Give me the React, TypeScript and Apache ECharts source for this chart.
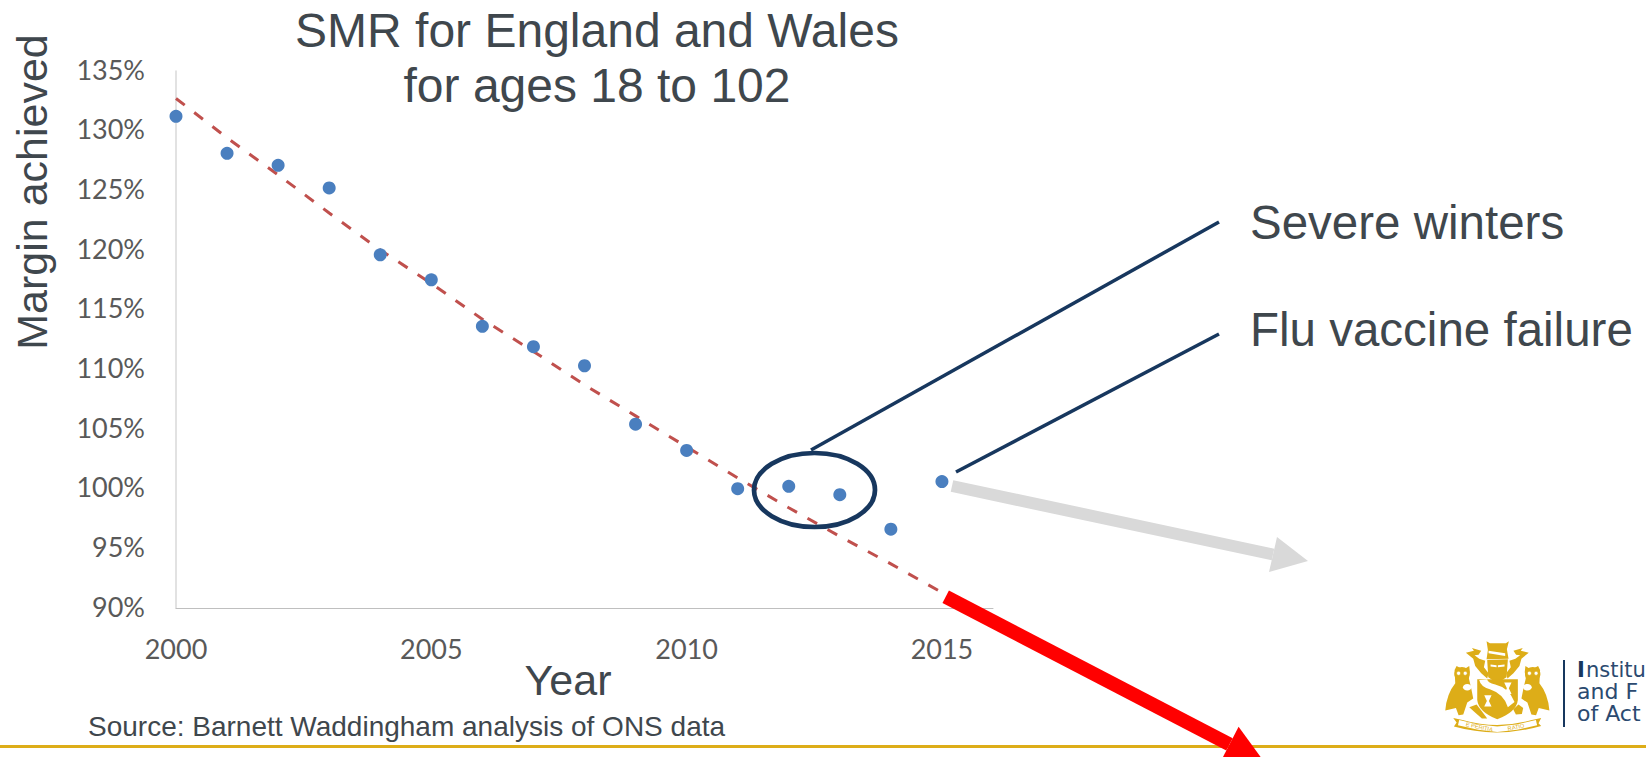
import React, { useEffect, useRef } from "react";
import * as echarts from "echarts";

const years = [2000, 2001, 2002, 2003, 2004, 2005, 2006, 2007, 2008, 2009, 2010, 2011, 2012, 2013, 2014, 2015];
const margins = [131.2, 128.1, 127.1, 125.2, 119.6, 117.5, 113.6, 111.9, 110.3, 105.4, 103.2, 100.0, 100.2, 99.5, 96.6, 100.6];
const trendValues = [132.7, 129.4, 126.3, 123.1, 120.0, 117.2, 114.2, 111.5, 108.7, 106.1, 103.5, 100.9, 98.4, 96.0, 93.7, 91.3];

const titleLines = ["SMR for England and Wales", "for ages 18 to 102"];
const yTitle = "Margin achieved";
const xTitle = "Year";
const sourceNote = "Source: Barnett Waddingham analysis of ONS data";
const callouts = ["Severe winters", "Flu vaccine failure"];
const logoLines = ["nstitu", "and F", "of Act"];
const mottoParts = ["E PERITIA", "RATIO"];

const INK = "#3F474D";
const NAVY = "#17375E";
const GOLD = "#DDAD18";
const SANS = "'Liberation Sans', Arial, sans-serif";

// Coat of arms, drawn in a 3x local space and scaled down when placed.
const SHIELD = "M292,178 L414,178 L414,240 Q410,276 352,298 Q296,276 292,240 Z";
const SHIELD_BEND = "M298,180 Q302,200 330,208 Q372,222 384,262 L404,246 Q388,204 346,194 Q322,188 322,178 Z";
const HELM = "M322,120 L384,118 L380,172 L352,190 L325,172 Z";
const CREST = "M320,64 L330,70 L378,70 L387,64 L381,88 L386,116 L320,118 L324,90 Z";
const MANTLE_L = "M258,98 L282,92 L276,84 L304,92 L296,104 L284,106 L298,116 L316,122 L312,142 L326,160 L322,176 L304,160 L286,138 L280,116 Z";
const OWL_L = "M224,150 L230,138 L244,146 L256,146 L268,138 L270,156 L267,176 L274,206 L280,236 L262,248 L250,284 L236,286 L228,264 L196,272 Q200,222 226,190 Z";
const SCROLL = "M220,294 L248,300 Q352,330 456,300 L484,294 L476,310 L484,318 Q352,356 222,320 L230,308 Z";
const THISTLE = "M268,262 L290,254 L304,272 L322,296 L306,296 L288,280 Z";
const ROSE = "M416,254 L430,264 L426,282 L408,284 L400,268 Z";

function crestPath(name: string, d: string) {
  echarts.graphic.registerShape(name, echarts.graphic.extendPath(d as any, {}) as any);
}
crestPath("armsShield", SHIELD);
crestPath("armsBend", SHIELD_BEND);
crestPath("armsHelm", HELM);
crestPath("armsCrest", CREST);
crestPath("armsMantle", MANTLE_L);
crestPath("armsOwl", OWL_L);
crestPath("armsScroll", SCROLL);
crestPath("armsThistle", THISTLE);
crestPath("armsRose", ROSE);

function arrow(from: number[], to: number[], wing: number[], wing2: number[], width: number, color: string, z: number) {
  return [
    { type: "line", z, shape: { x1: from[0], y1: from[1], x2: (wing[0] + wing2[0]) / 2, y2: (wing[1] + wing2[1]) / 2 }, style: { stroke: color, lineWidth: width } },
    { type: "polygon", z, shape: { points: [wing, to, wing2] }, style: { fill: color } },
  ];
}

function crestLogo() {
  const gold = { fill: GOLD };
  const white = { fill: "#FFFFFF" };
  const owlEye = (cx: number) => ({ type: "circle", shape: { cx, cy: 160, r: 6 }, style: { fill: "#FFFFFF", stroke: GOLD, lineWidth: 2 } });
  const glass = (x: number, y: number) => ({ type: "polygon", shape: { points: [[x, y], [x + 22, y], [x + 14, y + 17], [x + 22, y + 34], [x, y + 34], [x + 8, y + 17]] }, style: { fill: "#FFFFFF" } });
  const motto = (text: string, x: number, y: number, rotation: number) => ({
    type: "text",
    x,
    y,
    rotation,
    style: { text, fill: GOLD, font: `17px ${SANS}`, textAlign: "center", textVerticalAlign: "middle" },
  });
  const sideParts = () => [
    { type: "armsOwl", style: gold },
    { type: "ellipse", shape: { cx: 246, cy: 162, rx: 23, ry: 21 }, style: gold },
    owlEye(236),
    owlEye(256),
    { type: "ellipse", shape: { cx: 262, cy: 202, rx: 13, ry: 10 }, style: white },
    { type: "armsMantle", style: gold },
  ];
  return {
    type: "group",
    x: 1380,
    y: 620,
    scaleX: 1 / 3,
    scaleY: 1 / 3,
    z: 5,
    children: [
      { type: "group", children: sideParts() },
      { type: "group", x: 704, scaleX: -1, children: sideParts() },
      { type: "armsCrest", style: gold },
      { type: "polygon", shape: { points: [[326, 92], [376, 100], [376, 108], [326, 100]] }, style: white },
      { type: "armsHelm", style: gold },
      { type: "polygon", shape: { points: [[332, 134], [350, 136], [350, 142], [332, 140]] }, style: white },
      { type: "polygon", shape: { points: [[354, 136], [374, 134], [374, 140], [354, 142]] }, style: white },
      { type: "armsShield", style: gold },
      { type: "armsBend", style: white },
      glass(373, 188),
      glass(313, 226),
      { type: "armsThistle", style: gold },
      { type: "armsRose", style: gold },
      { type: "armsScroll", style: { fill: GOLD } },
      { type: "polyline", shape: { points: [[236, 308], [296, 322], [352, 328], [410, 322], [470, 308]] }, style: { stroke: "#FFFFFF", lineWidth: 16, fill: "none" } },
      motto(mottoParts[0], 298, 321, -0.2),
      motto(mottoParts[1], 408, 321, 0.2),
    ],
  };
}

export default function App() {
  const ref = useRef<HTMLDivElement>(null);

  useEffect(() => {
    document.body.style.margin = "0";
    const chart = echarts.init(ref.current!, undefined, { renderer: "svg" });

    const plainText = (text: string, x: number, y: number, size: number, align = "left") => ({
      type: "text",
      x,
      y,
      z: 6,
      style: { text, fill: INK, font: `${size}px ${SANS}`, textAlign: align, textVerticalAlign: "middle" },
    });

    chart.setOption({
      animation: false,
      backgroundColor: "#FFFFFF",
      title: {
        text: titleLines.join("\n"),
        left: 592,
        top: -2,
        textAlign: "center",
        textStyle: { color: INK, fontFamily: SANS, fontSize: 48, fontWeight: "normal", lineHeight: 55 },
      },
      grid: { left: 176, right: 653, top: 71, bottom: 149 },
      xAxis: {
        type: "value",
        min: 2000,
        max: 2016,
        interval: 5,
        splitLine: { show: false },
        axisTick: { show: false },
        axisLine: { show: true, onZero: false, lineStyle: { color: "#BFBFBF", width: 1 } },
        axisLabel: { showMaxLabel: false, color: "#595959", fontFamily: "Lato", fontSize: 27, margin: 27, formatter: (v: number) => String(v) },
      },
      yAxis: {
        type: "value",
        min: 90,
        max: 135,
        interval: 5,
        splitLine: { show: false },
        axisTick: { show: false },
        axisLine: { show: true, onZero: false, lineStyle: { color: "#D9D9D9", width: 1.5 } },
        axisLabel: { color: "#595959", fontFamily: "Lato", fontSize: 27, margin: 31, verticalAlign: "bottom", lineHeight: 4, formatter: "{value}%" },
      },
      series: [
        {
          type: "line",
          data: years.map((y, i) => [y, trendValues[i]]),
          symbol: "none",
          z: 2,
          lineStyle: { color: "#C0504D", width: 3, type: [11, 12] },
        },
        {
          type: "scatter",
          data: years.map((y, i) => [y, margins[i]]),
          symbol: "circle",
          symbolSize: 13,
          z: 3,
          itemStyle: { color: "#4A7FBF", opacity: 1 },
        },
      ],
      graphic: [
        { type: "text", x: 32, y: 192, rotation: Math.PI / 2, z: 6, style: { text: yTitle, fill: INK, font: `43px ${SANS}`, textAlign: "center", textVerticalAlign: "middle" } },
        plainText(xTitle, 568, 680, 43, "center"),
        plainText(sourceNote, 88, 726, 28),
        plainText(callouts[0], 1250, 222, 47.5),
        plainText(callouts[1], 1250, 329, 47.5),

        { type: "line", z: 4, shape: { x1: 1219, y1: 222, x2: 811, y2: 450 }, style: { stroke: NAVY, lineWidth: 3.5 } },
        { type: "line", z: 4, shape: { x1: 1219, y1: 334, x2: 956, y2: 472 }, style: { stroke: NAVY, lineWidth: 3.5 } },
        { type: "ellipse", z: 4, shape: { cx: 814.5, cy: 490, rx: 60.5, ry: 37 }, style: { stroke: NAVY, lineWidth: 4.7, fill: "none" } },

        ...arrow([952, 486], [1308, 561], [1277, 537], [1269, 572], 12, "#D9D9D9", 4),

        { type: "rect", z: 1, shape: { x: 0, y: 745, width: 1646, height: 3 }, style: { fill: GOLD } },
        ...arrow([945.7, 596.7], [1265, 763], [1238.6, 726.7], [1220.4, 762], 14, "#FF0000", 4),

        crestLogo(),
        { type: "rect", z: 5, shape: { x: 1563, y: 660, width: 2, height: 67 }, style: { fill: NAVY } },
        { type: "text", x: 1577, y: 680, z: 6, style: { text: "I", fill: NAVY, font: `bold 21px 'DejaVu Sans'`, textVerticalAlign: "bottom" } },
        { type: "text", x: 1586, y: 680, z: 6, style: { text: logoLines[0], fill: "#2B4A70", font: `21px 'DejaVu Sans'`, textVerticalAlign: "bottom" } },
        { type: "text", x: 1577, y: 702, z: 6, style: { text: logoLines[1], fill: "#2B4A70", font: `22px 'DejaVu Sans'`, textVerticalAlign: "bottom" } },
        { type: "text", x: 1577, y: 724, z: 6, style: { text: logoLines[2], fill: "#2B4A70", font: `22px 'DejaVu Sans'`, textVerticalAlign: "bottom" } },
      ],
    });

    return () => chart.dispose();
  }, []);

  return <div ref={ref} style={{ position: "fixed", left: 0, top: 0, width: 1646, height: 757, overflow: "hidden" }} />;
}
